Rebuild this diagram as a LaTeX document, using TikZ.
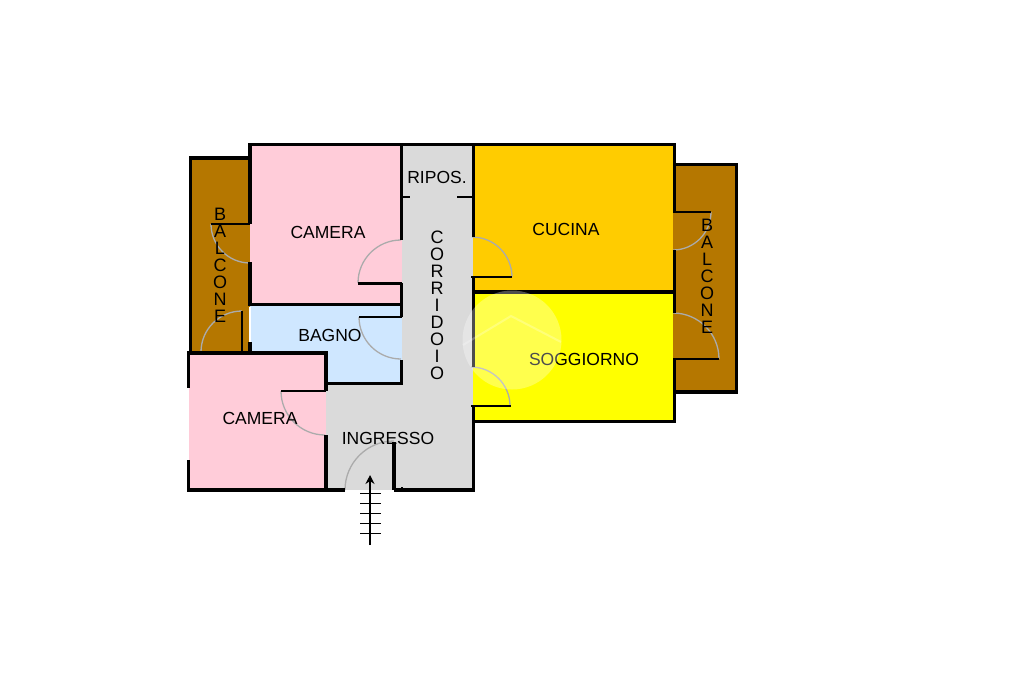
\documentclass[tikz,border=0pt]{standalone}
\usepackage{fontspec}
\setmainfont{Liberation Sans}
\usepackage{xcolor}
\usetikzlibrary{arrows.meta}
\definecolor{pinkroom}{HTML}{FFCCD9}
\definecolor{blueroom}{HTML}{CFE7FF}
\definecolor{grayroom}{HTML}{DADADA}
\definecolor{orangeroom}{HTML}{FFCC00}
\definecolor{yellowroom}{HTML}{FFFF00}
\definecolor{brownroom}{HTML}{B57700}
\definecolor{doorgray}{HTML}{ABABAB}

\begin{document}
\begin{tikzpicture}[x=1pt,y=-1pt,
    wall/.style={black, line width=3.5pt},
    thinwall/.style={black, line width=2.2pt},
    door/.style={doorgray, line width=1.3pt},
    label/.style={font=\fontsize{17.5}{20}\selectfont, inner sep=0pt},
    letter/.style={font=\fontsize{18}{20}\selectfont, inner sep=0pt}]
    \useasboundingbox (0,0) rectangle (1024,682);
    \fill[white] (0,0) rectangle (1024,682);
    % Rooms
    \fill[brownroom] (190,158) rectangle (250,352);
    \fill[brownroom] (673,164) rectangle (736,392);
    \fill[pinkroom] (250,144) rectangle (402,304);
    \fill[blueroom] (250,304) rectangle (402,383);
    \fill[pinkroom] (188,352) rectangle (326,490);
    \fill[grayroom] (402,144) rectangle (473,490);
    \fill[grayroom] (326,383) rectangle (402,490);
    \fill[orangeroom] (473,144) rectangle (673,292);
    \fill[yellowroom] (473,292) rectangle (673,421);
    % Door swings
    \draw[door] (358,283) arc (180:270:43);
    \draw[door] (359,317) arc (180:90:42);
    \draw[door] (281,391) arc (180:90:44);
    \draw[door] (345,490) arc (180:270:49);
    \draw[door] (211,224) arc (180:90:39);
    \draw[door] (242,311) arc (270:180:41);
    \draw[door] (472,237) arc (270:360:40);
    \draw[door] (471,367) arc (270:360:39);
    \draw[door] (711,212) arc (0:90:38);
    \draw[door] (673,313) arc (270:360:46);
    % Outer walls
    \draw[wall] (250,224) -- (250,144.5) -- (674.5,144.5) -- (674.5,212);
    \draw[wall] (674.5,250) -- (674.5,313);
    \draw[wall] (674.5,359) -- (674.5,421.5) -- (473.5,421.5);
    \draw[wall] (674.5,164.5) -- (736.5,164.5) -- (736.5,392) -- (674.5,392);
    \draw[wall] (250,158) -- (190.5,158) -- (190.5,352);
    \draw[wall] (250,262) -- (250,306);
    \draw[wall] (250,342) -- (250,352);
    \draw[wall] (187,353) -- (326,353) -- (326,391);
    \draw[wall] (326,435) -- (326,490);
    \draw[wall] (188.5,352) -- (188.5,388);
    \draw[wall] (188.5,460) -- (188.5,490) -- (345,490);
    \draw[wall] (394,490) -- (473.5,490) -- (473.5,406);
    \draw[wall] (394,442) -- (394,490);
    % Inner walls
    \draw[wall] (401.7,144) -- (401.7,240);
    \draw[wall] (401.7,283) -- (401.7,317);
    \draw[wall] (401.7,360) -- (401.7,383.5) -- (326,383.5);
    \draw[wall] (250,304.3) -- (401.7,304.3);
    \draw[wall] (473.5,144) -- (473.5,237);
    \draw[wall] (473.5,277) -- (473.5,367);
    \draw[wall] (473.5,292) -- (674.5,292);
    \draw[thinwall] (402,197) -- (410,197);
    \draw[thinwall] (457,197) -- (473,197);
    \draw[thinwall] (402,487) -- (402,490);
    % Door leaves
    \draw[thinwall] (358,283.5) -- (402,283.5);
    \draw[thinwall] (359,317) -- (402,317);
    \draw[thinwall] (281,391) -- (326,391);
    \draw[thinwall] (211,224) -- (250,224);
    \draw[thinwall] (242,311) -- (242,352);
    \draw[thinwall] (471,277) -- (512,277);
    \draw[thinwall] (471,406) -- (511,406);
    \draw[thinwall] (673,212) -- (711,212);
    \draw[thinwall] (673,359) -- (719,359);
    % Windows
    \draw[white, line width=1.5pt] (188,388) -- (188,460);
    \draw[white, line width=2pt] (250,307) -- (250,342);
    % Entrance steps
    \draw[black, line width=1.6pt, -{Stealth[length=9pt,width=9pt]}] (370,545) -- (370,475);
    \foreach \y in {493,503,513,523,533}
        \draw[black, line width=0.8pt] (360,\y) -- (381,\y);
    % Labels
    \node[label] (cameraup) at (328,232) {CAMERA};
    \node[label] (bagno) at (330,335) {BAGNO};
    \node[label] (ripos) at (437,177) {RIPOS.};
    \node[label] (cucina) at (566,229) {CUCINA};
    \node[label] (soggiorno) at (584,359) {SOGGIORNO};
    \node[label] (cameradown) at (260,418) {CAMERA};
    \node[label] (ingresso) at (388,438) {INGRESSO};
    % Vertical labels
    \foreach \ltr [count=\i] in {B,A,L,C,O,N,E}
        \node[letter] (balconeleft\i) at (220,197+\i*17) {\ltr};
    \foreach \ltr [count=\i] in {B,A,L,C,O,N,E}
        \node[letter] (balconeright\i) at (707,208+\i*17) {\ltr};
    \foreach \ltr [count=\i] in {C,O,R,R,I,D,O,I,O}
        \node[letter] (corridoio\i) at (437,220+\i*17) {\ltr};
    % Watermark
    \fill[white, opacity=0.3] (512,340) circle (49.5);
    \draw[white, opacity=0.25, line width=2pt] (463,345) -- (511,316) -- (561,342);
\end{tikzpicture}
\end{document}
